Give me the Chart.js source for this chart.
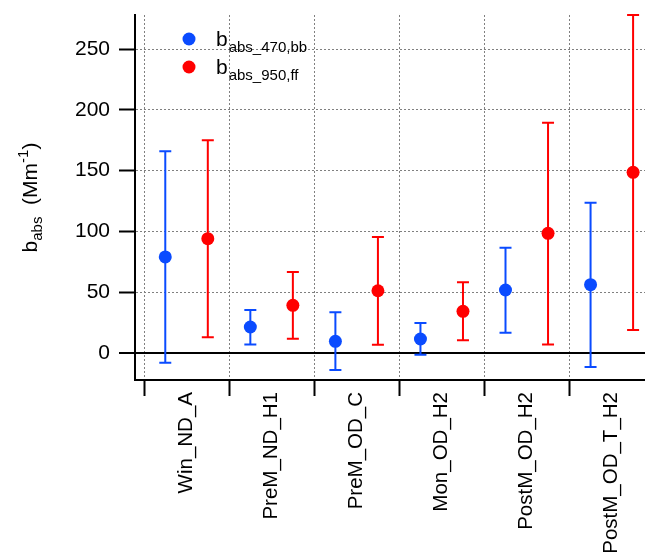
<!DOCTYPE html>
<html>
<head>
  <meta charset="utf-8">
  <title>b_abs per category</title>
  <script src="https://cdn.jsdelivr.net/npm/chart.js"></script>
  <style>
    html, body {
      margin: 0;
      padding: 0;
      background-color: #fff;
    }
    #wrap {
      width: 645px;
      height: 556px;
      position: relative;
    }
  </style>
</head>
<body>
  <div id="wrap"><canvas id="myChart"></canvas></div>

  <script>
    // data
    const categories = ['Win_ND_A', 'PreM_ND_H1', 'PreM_OD_C', 'Mon_OD_H2', 'PostM_OD_H2', 'PostM_OD_T_H2'];
    const yTicks = [0, 50, 100, 150, 200, 250];

    const bb470 = [79, 21.4, 9.6, 11.5, 51.8, 56.2];
    const bb470Low = [-8, 7.1, -14, -1.4, 16.7, -11.5];
    const bb470High = [166, 35.4, 33.5, 24.7, 86.6, 123.6];

    const ff950 = [94, 39.2, 51.2, 34.3, 98.4, 148.6];
    const ff950Low = [12.9, 11.8, 6.8, 10.4, 7.1, 18.9];
    const ff950High = [175, 66.6, 95.4, 58.1, 189.4, 278];

    const legendSubs = ['abs_470,bb', 'abs_950,ff'];

    const FONT = "'Liberation Sans', Arial, Helvetica, sans-serif";
    const BLUE = '#0a4bff';
    const RED = '#ff0000';
    const GRID = '#808080';
    const shift = 0.25;

    Chart.defaults.font.family = FONT;
    Chart.defaults.color = '#000';

    function toPoints(vals, dx) {
      return vals.map((v, i) => ({ x: i + dx, y: v }));
    }

    // vertical error bars with caps, under the markers
    const errorBars = {
      id: 'errorBars',
      beforeDatasetsDraw(chart) {
        const ctx = chart.ctx;
        const y = chart.scales.y;
        chart.data.datasets.forEach((ds, d) => {
          const meta = chart.getDatasetMeta(d);
          ctx.save();
          ctx.strokeStyle = ds.backgroundColor;
          ctx.lineWidth = 2;
          meta.data.forEach((pt, i) => {
            const yl = y.getPixelForValue(ds.low[i]);
            const yh = y.getPixelForValue(ds.high[i]);
            ctx.beginPath();
            ctx.moveTo(pt.x, yl); ctx.lineTo(pt.x, yh);
            ctx.moveTo(pt.x - 6, yl); ctx.lineTo(pt.x + 6, yl);
            ctx.moveTo(pt.x - 6, yh); ctx.lineTo(pt.x + 6, yh);
            ctx.stroke();
          });
          ctx.restore();
        });
      }
    };

    // legend with subscripts
    const subLegend = {
      id: 'subLegend',
      afterDraw(chart) {
        const ctx = chart.ctx;
        const a = chart.chartArea;
        chart.data.datasets.forEach((ds, i) => {
          const cx = a.left + 54;
          const cy = a.top + 24 + i * 28;
          ctx.save();
          ctx.fillStyle = ds.backgroundColor;
          ctx.beginPath();
          ctx.arc(cx, cy, 6.5, 0, Math.PI * 2);
          ctx.fill();
          ctx.fillStyle = '#000';
          ctx.textAlign = 'left';
          ctx.textBaseline = 'alphabetic';
          ctx.font = '21px ' + FONT;
          ctx.fillText('b', cx + 27, cy + 7);
          const w = ctx.measureText('b').width;
          ctx.font = '15px ' + FONT;
          ctx.fillText(legendSubs[i], cx + 28 + w, cy + 13);
          ctx.restore();
        });
      }
    };

    // rotated y title: b_abs (Mm^-1)
    const yTitleParts = [
      { t: 'b', size: 21, dy: 0 },
      { t: 'abs', size: 15, dy: 5 },
      { t: '  (Mm', size: 21, dy: 0 },
      { t: '-1', size: 15, dy: -9 },
      { t: ')', size: 21, dy: 0 }
    ];
    const yTitle = {
      id: 'yTitle',
      afterDraw(chart) {
        const ctx = chart.ctx;
        const a = chart.chartArea;
        ctx.save();
        ctx.translate(37, (a.top + a.bottom) / 2);
        ctx.rotate(-Math.PI / 2);
        ctx.fillStyle = '#000';
        ctx.textAlign = 'left';
        ctx.textBaseline = 'alphabetic';
        let total = 0;
        yTitleParts.forEach(p => {
          ctx.font = p.size + 'px ' + FONT;
          p.w = ctx.measureText(p.t).width;
          total += p.w;
        });
        let x = -total / 2;
        yTitleParts.forEach(p => {
          ctx.font = p.size + 'px ' + FONT;
          ctx.fillText(p.t, x, p.dy);
          x += p.w;
        });
        ctx.restore();
      }
    };

    const isZero = c => c.tick && c.tick.value === 0;

    const ctx = document.getElementById('myChart').getContext('2d');
    const chart = new Chart(ctx, {
      type: 'scatter',
      data: {
        datasets: [{
          label: 'b abs_470,bb',
          data: toPoints(bb470, -shift),
          low: bb470Low,
          high: bb470High,
          backgroundColor: BLUE,
          borderColor: BLUE,
          pointRadius: 6.5,
          pointBorderWidth: 0
        }, {
          label: 'b abs_950,ff',
          data: toPoints(ff950, shift),
          low: ff950Low,
          high: ff950High,
          backgroundColor: RED,
          borderColor: RED,
          pointRadius: 6.5,
          pointBorderWidth: 0
        }]
      },
      options: {
        responsive: true,
        maintainAspectRatio: false,
        animation: false,
        layout: {
          autoPadding: false,
          padding: { top: 15, left: 0, right: 0, bottom: 0 }
        },
        plugins: {
          legend: { display: false },
          tooltip: { enabled: false }
        },
        scales: {
          x: {
            type: 'linear',
            min: -0.606,
            max: 5.39,
            afterBuildTicks: s => { s.ticks = categories.map((c, i) => ({ value: i })); },
            afterFit: s => {
              s.height = 176;
              s.paddingLeft = 0;
              s.paddingRight = 0;
            },
            ticks: {
              callback: v => categories[v],
              autoSkip: false,
              minRotation: 90,
              maxRotation: 90,
              padding: -4,
              font: { size: 20.5 },
              color: '#000'
            },
            grid: {
              offset: true,
              color: GRID,
              lineWidth: 1,
              tickLength: 16,
              tickColor: '#000',
              tickWidth: 2,
              tickBorderDash: []
            },
            border: { color: '#000', width: 2, dash: [2, 2] }
          },
          y: {
            min: -22.2,
            max: 278,
            afterBuildTicks: s => { s.ticks = yTicks.map(v => ({ value: v })); },
            afterFit: s => {
              s.width = 135;
              s.paddingTop = 0;
              s.paddingBottom = 0;
            },
            ticks: {
              padding: 9,
              font: { size: 21 },
              color: '#000'
            },
            grid: {
              color: c => isZero(c) ? '#000' : GRID,
              lineWidth: c => isZero(c) ? 2 : 1,
              tickLength: 16,
              tickColor: '#000',
              tickWidth: 2,
              tickBorderDash: []
            },
            border: {
              color: '#000',
              width: 2,
              dash: c => isZero(c) ? [] : [2, 2]
            }
          }
        }
      },
      plugins: [errorBars, subLegend, yTitle]
    });
  </script>
</body>
</html>
